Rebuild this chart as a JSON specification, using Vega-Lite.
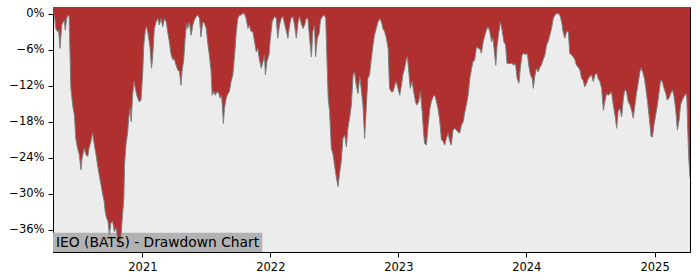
{
  "$schema": "https://vega.github.io/schema/vega-lite/v6.json",
  "width": 637,
  "height": 245,
  "autosize": {"type": "none"},
  "padding": {"left": 53, "top": 7, "right": 10, "bottom": 28},
  "background": "#ffffff",
  "config": {
    "view": {"fill": "#ececec", "stroke": "#000000", "strokeWidth": 1},
    "font": "DejaVu Sans",
    "axis": {
      "labelFont": "DejaVu Sans",
      "labelFontSize": 11.5,
      "labelColor": "#000000",
      "tickColor": "#000000",
      "domainColor": "#000000",
      "tickSize": 5,
      "grid": false,
      "title": null
    }
  },
  "datasets": {
    "label": [{"name": "IEO (BATS) - Drawdown Chart"}]
  },
  "data": {
    "values": [
      {"date": "2020-04-21", "drawdown": 0},
      {"date": "2020-04-25", "drawdown": -0.0025},
      {"date": "2020-04-29", "drawdown": -0.0247},
      {"date": "2020-05-04", "drawdown": -0.030},
      {"date": "2020-05-07", "drawdown": -0.0275},
      {"date": "2020-05-11", "drawdown": -0.058},
      {"date": "2020-05-16", "drawdown": -0.019},
      {"date": "2020-05-23", "drawdown": -0.011},
      {"date": "2020-05-26", "drawdown": -0.0275},
      {"date": "2020-05-30", "drawdown": -0.008},
      {"date": "2020-06-03", "drawdown": -0.0025},
      {"date": "2020-06-06", "drawdown": -0.005},
      {"date": "2020-06-11", "drawdown": -0.1245},
      {"date": "2020-06-16", "drawdown": -0.152},
      {"date": "2020-06-21", "drawdown": -0.169},
      {"date": "2020-06-25", "drawdown": -0.208},
      {"date": "2020-06-30", "drawdown": -0.224},
      {"date": "2020-07-05", "drawdown": -0.235},
      {"date": "2020-07-10", "drawdown": -0.260},
      {"date": "2020-07-13", "drawdown": -0.241},
      {"date": "2020-07-19", "drawdown": -0.224},
      {"date": "2020-07-24", "drawdown": -0.235},
      {"date": "2020-07-29", "drawdown": -0.238},
      {"date": "2020-08-02", "drawdown": -0.224},
      {"date": "2020-08-07", "drawdown": -0.213},
      {"date": "2020-08-12", "drawdown": -0.199},
      {"date": "2020-08-17", "drawdown": -0.219},
      {"date": "2020-08-22", "drawdown": -0.235},
      {"date": "2020-08-26", "drawdown": -0.252},
      {"date": "2020-08-31", "drawdown": -0.269},
      {"date": "2020-09-05", "drawdown": -0.285},
      {"date": "2020-09-10", "drawdown": -0.302},
      {"date": "2020-09-14", "drawdown": -0.313},
      {"date": "2020-09-17", "drawdown": -0.330},
      {"date": "2020-09-21", "drawdown": -0.341},
      {"date": "2020-09-25", "drawdown": -0.346},
      {"date": "2020-09-29", "drawdown": -0.369},
      {"date": "2020-10-03", "drawdown": -0.349},
      {"date": "2020-10-08", "drawdown": -0.346},
      {"date": "2020-10-13", "drawdown": -0.363},
      {"date": "2020-10-18", "drawdown": -0.357},
      {"date": "2020-10-22", "drawdown": -0.374},
      {"date": "2020-10-27", "drawdown": -0.385},
      {"date": "2020-11-01", "drawdown": -0.369},
      {"date": "2020-11-06", "drawdown": -0.330},
      {"date": "2020-11-09", "drawdown": -0.308},
      {"date": "2020-11-11", "drawdown": -0.252},
      {"date": "2020-11-15", "drawdown": -0.219},
      {"date": "2020-11-20", "drawdown": -0.197},
      {"date": "2020-11-23", "drawdown": -0.174},
      {"date": "2020-11-27", "drawdown": -0.158},
      {"date": "2020-11-30", "drawdown": -0.180},
      {"date": "2020-12-04", "drawdown": -0.136},
      {"date": "2020-12-08", "drawdown": -0.113},
      {"date": "2020-12-12", "drawdown": -0.1245},
      {"date": "2020-12-16", "drawdown": -0.136},
      {"date": "2020-12-19", "drawdown": -0.141},
      {"date": "2020-12-23", "drawdown": -0.147},
      {"date": "2020-12-28", "drawdown": -0.144},
      {"date": "2021-01-02", "drawdown": -0.097},
      {"date": "2021-01-05", "drawdown": -0.052},
      {"date": "2021-01-10", "drawdown": -0.0247},
      {"date": "2021-01-13", "drawdown": -0.022},
      {"date": "2021-01-18", "drawdown": -0.036},
      {"date": "2021-01-23", "drawdown": -0.058},
      {"date": "2021-01-27", "drawdown": -0.091},
      {"date": "2021-01-30", "drawdown": -0.075},
      {"date": "2021-02-04", "drawdown": -0.0247},
      {"date": "2021-02-09", "drawdown": -0.014},
      {"date": "2021-02-14", "drawdown": -0.008},
      {"date": "2021-02-18", "drawdown": -0.019},
      {"date": "2021-02-23", "drawdown": -0.008},
      {"date": "2021-02-28", "drawdown": -0.022},
      {"date": "2021-03-05", "drawdown": -0.008},
      {"date": "2021-03-10", "drawdown": -0.014},
      {"date": "2021-03-14", "drawdown": -0.030},
      {"date": "2021-03-19", "drawdown": -0.047},
      {"date": "2021-03-24", "drawdown": -0.069},
      {"date": "2021-03-29", "drawdown": -0.077},
      {"date": "2021-04-02", "drawdown": -0.075},
      {"date": "2021-04-07", "drawdown": -0.086},
      {"date": "2021-04-12", "drawdown": -0.094},
      {"date": "2021-04-17", "drawdown": -0.097},
      {"date": "2021-04-21", "drawdown": -0.119},
      {"date": "2021-04-24", "drawdown": -0.097},
      {"date": "2021-04-29", "drawdown": -0.075},
      {"date": "2021-05-03", "drawdown": -0.041},
      {"date": "2021-05-07", "drawdown": -0.016},
      {"date": "2021-05-10", "drawdown": -0.0247},
      {"date": "2021-05-15", "drawdown": -0.014},
      {"date": "2021-05-20", "drawdown": -0.036},
      {"date": "2021-05-25", "drawdown": -0.019},
      {"date": "2021-05-29", "drawdown": -0.011},
      {"date": "2021-06-03", "drawdown": -0.005},
      {"date": "2021-06-08", "drawdown": -0.0025},
      {"date": "2021-06-13", "drawdown": -0.008},
      {"date": "2021-06-17", "drawdown": -0.039},
      {"date": "2021-06-22", "drawdown": -0.014},
      {"date": "2021-06-27", "drawdown": -0.016},
      {"date": "2021-07-02", "drawdown": -0.0247},
      {"date": "2021-07-06", "drawdown": -0.047},
      {"date": "2021-07-11", "drawdown": -0.069},
      {"date": "2021-07-16", "drawdown": -0.097},
      {"date": "2021-07-19", "drawdown": -0.136},
      {"date": "2021-07-24", "drawdown": -0.130},
      {"date": "2021-07-28", "drawdown": -0.136},
      {"date": "2021-08-02", "drawdown": -0.130},
      {"date": "2021-08-07", "drawdown": -0.133},
      {"date": "2021-08-11", "drawdown": -0.141},
      {"date": "2021-08-15", "drawdown": -0.136},
      {"date": "2021-08-20", "drawdown": -0.183},
      {"date": "2021-08-23", "drawdown": -0.158},
      {"date": "2021-08-28", "drawdown": -0.141},
      {"date": "2021-09-02", "drawdown": -0.133},
      {"date": "2021-09-06", "drawdown": -0.130},
      {"date": "2021-09-11", "drawdown": -0.113},
      {"date": "2021-09-16", "drawdown": -0.102},
      {"date": "2021-09-21", "drawdown": -0.069},
      {"date": "2021-09-25", "drawdown": -0.036},
      {"date": "2021-09-30", "drawdown": -0.008},
      {"date": "2021-10-05", "drawdown": -0.0025},
      {"date": "2021-10-10", "drawdown": -0.0025},
      {"date": "2021-10-14", "drawdown": 0},
      {"date": "2021-10-19", "drawdown": 0},
      {"date": "2021-10-24", "drawdown": -0.008},
      {"date": "2021-10-29", "drawdown": -0.0247},
      {"date": "2021-11-02", "drawdown": -0.019},
      {"date": "2021-11-07", "drawdown": -0.030},
      {"date": "2021-11-12", "drawdown": -0.030},
      {"date": "2021-11-17", "drawdown": -0.047},
      {"date": "2021-11-22", "drawdown": -0.064},
      {"date": "2021-11-26", "drawdown": -0.058},
      {"date": "2021-12-01", "drawdown": -0.077},
      {"date": "2021-12-06", "drawdown": -0.091},
      {"date": "2021-12-11", "drawdown": -0.080},
      {"date": "2021-12-15", "drawdown": -0.069},
      {"date": "2021-12-18", "drawdown": -0.102},
      {"date": "2021-12-22", "drawdown": -0.080},
      {"date": "2021-12-28", "drawdown": -0.069},
      {"date": "2021-12-31", "drawdown": -0.047},
      {"date": "2022-01-06", "drawdown": -0.014},
      {"date": "2022-01-13", "drawdown": -0.005},
      {"date": "2022-01-18", "drawdown": -0.008},
      {"date": "2022-01-22", "drawdown": -0.041},
      {"date": "2022-01-27", "drawdown": -0.019},
      {"date": "2022-02-01", "drawdown": -0.008},
      {"date": "2022-02-06", "drawdown": -0.005},
      {"date": "2022-02-10", "drawdown": -0.016},
      {"date": "2022-02-15", "drawdown": -0.0275},
      {"date": "2022-02-20", "drawdown": -0.041},
      {"date": "2022-02-25", "drawdown": -0.019},
      {"date": "2022-03-01", "drawdown": -0.008},
      {"date": "2022-03-06", "drawdown": -0.005},
      {"date": "2022-03-11", "drawdown": -0.019},
      {"date": "2022-03-16", "drawdown": -0.041},
      {"date": "2022-03-21", "drawdown": -0.014},
      {"date": "2022-03-25", "drawdown": -0.005},
      {"date": "2022-03-30", "drawdown": -0.016},
      {"date": "2022-04-04", "drawdown": -0.0247},
      {"date": "2022-04-09", "drawdown": -0.019},
      {"date": "2022-04-13", "drawdown": -0.008},
      {"date": "2022-04-18", "drawdown": -0.008},
      {"date": "2022-04-23", "drawdown": -0.041},
      {"date": "2022-04-28", "drawdown": -0.072},
      {"date": "2022-05-02", "drawdown": -0.030},
      {"date": "2022-05-07", "drawdown": -0.019},
      {"date": "2022-05-10", "drawdown": -0.072},
      {"date": "2022-05-15", "drawdown": -0.041},
      {"date": "2022-05-20", "drawdown": -0.033},
      {"date": "2022-05-24", "drawdown": -0.011},
      {"date": "2022-05-29", "drawdown": -0.005},
      {"date": "2022-06-04", "drawdown": -0.0025},
      {"date": "2022-06-08", "drawdown": -0.008},
      {"date": "2022-06-11", "drawdown": -0.069},
      {"date": "2022-06-15", "drawdown": -0.141},
      {"date": "2022-06-19", "drawdown": -0.163},
      {"date": "2022-06-24", "drawdown": -0.224},
      {"date": "2022-06-29", "drawdown": -0.235},
      {"date": "2022-07-03", "drawdown": -0.252},
      {"date": "2022-07-08", "drawdown": -0.272},
      {"date": "2022-07-13", "drawdown": -0.288},
      {"date": "2022-07-18", "drawdown": -0.263},
      {"date": "2022-07-22", "drawdown": -0.247},
      {"date": "2022-07-27", "drawdown": -0.208},
      {"date": "2022-08-01", "drawdown": -0.202},
      {"date": "2022-08-06", "drawdown": -0.222},
      {"date": "2022-08-10", "drawdown": -0.191},
      {"date": "2022-08-15", "drawdown": -0.174},
      {"date": "2022-08-20", "drawdown": -0.152},
      {"date": "2022-08-25", "drawdown": -0.102},
      {"date": "2022-08-29", "drawdown": -0.097},
      {"date": "2022-09-03", "drawdown": -0.119},
      {"date": "2022-09-08", "drawdown": -0.133},
      {"date": "2022-09-13", "drawdown": -0.105},
      {"date": "2022-09-17", "drawdown": -0.1245},
      {"date": "2022-09-22", "drawdown": -0.152},
      {"date": "2022-09-27", "drawdown": -0.208},
      {"date": "2022-10-02", "drawdown": -0.152},
      {"date": "2022-10-06", "drawdown": -0.108},
      {"date": "2022-10-11", "drawdown": -0.102},
      {"date": "2022-10-16", "drawdown": -0.075},
      {"date": "2022-10-21", "drawdown": -0.052},
      {"date": "2022-10-25", "drawdown": -0.036},
      {"date": "2022-10-30", "drawdown": -0.0247},
      {"date": "2022-11-04", "drawdown": -0.014},
      {"date": "2022-11-09", "drawdown": -0.008},
      {"date": "2022-11-14", "drawdown": -0.014},
      {"date": "2022-11-18", "drawdown": -0.0247},
      {"date": "2022-11-23", "drawdown": -0.030},
      {"date": "2022-11-28", "drawdown": -0.041},
      {"date": "2022-12-03", "drawdown": -0.058},
      {"date": "2022-12-07", "drawdown": -0.1245},
      {"date": "2022-12-12", "drawdown": -0.130},
      {"date": "2022-12-17", "drawdown": -0.130},
      {"date": "2022-12-22", "drawdown": -0.119},
      {"date": "2022-12-26", "drawdown": -0.113},
      {"date": "2022-12-31", "drawdown": -0.1245},
      {"date": "2023-01-05", "drawdown": -0.136},
      {"date": "2023-01-10", "drawdown": -0.119},
      {"date": "2023-01-14", "drawdown": -0.102},
      {"date": "2023-01-19", "drawdown": -0.091},
      {"date": "2023-01-24", "drawdown": -0.075},
      {"date": "2023-01-27", "drawdown": -0.072},
      {"date": "2023-01-31", "drawdown": -0.097},
      {"date": "2023-02-04", "drawdown": -0.1245},
      {"date": "2023-02-09", "drawdown": -0.113},
      {"date": "2023-02-14", "drawdown": -0.130},
      {"date": "2023-02-19", "drawdown": -0.147},
      {"date": "2023-02-23", "drawdown": -0.152},
      {"date": "2023-02-28", "drawdown": -0.147},
      {"date": "2023-03-05", "drawdown": -0.130},
      {"date": "2023-03-10", "drawdown": -0.163},
      {"date": "2023-03-14", "drawdown": -0.197},
      {"date": "2023-03-17", "drawdown": -0.216},
      {"date": "2023-03-22", "drawdown": -0.219},
      {"date": "2023-03-27", "drawdown": -0.186},
      {"date": "2023-04-01", "drawdown": -0.158},
      {"date": "2023-04-05", "drawdown": -0.147},
      {"date": "2023-04-10", "drawdown": -0.138},
      {"date": "2023-04-15", "drawdown": -0.136},
      {"date": "2023-04-20", "drawdown": -0.147},
      {"date": "2023-04-24", "drawdown": -0.158},
      {"date": "2023-04-29", "drawdown": -0.177},
      {"date": "2023-05-04", "drawdown": -0.210},
      {"date": "2023-05-09", "drawdown": -0.213},
      {"date": "2023-05-13", "drawdown": -0.219},
      {"date": "2023-05-18", "drawdown": -0.208},
      {"date": "2023-05-23", "drawdown": -0.199},
      {"date": "2023-05-28", "drawdown": -0.213},
      {"date": "2023-06-01", "drawdown": -0.219},
      {"date": "2023-06-06", "drawdown": -0.194},
      {"date": "2023-06-11", "drawdown": -0.191},
      {"date": "2023-06-16", "drawdown": -0.194},
      {"date": "2023-06-20", "drawdown": -0.197},
      {"date": "2023-06-25", "drawdown": -0.199},
      {"date": "2023-06-30", "drawdown": -0.186},
      {"date": "2023-07-05", "drawdown": -0.180},
      {"date": "2023-07-10", "drawdown": -0.163},
      {"date": "2023-07-14", "drawdown": -0.152},
      {"date": "2023-07-19", "drawdown": -0.136},
      {"date": "2023-07-24", "drawdown": -0.108},
      {"date": "2023-07-29", "drawdown": -0.091},
      {"date": "2023-08-02", "drawdown": -0.080},
      {"date": "2023-08-07", "drawdown": -0.077},
      {"date": "2023-08-12", "drawdown": -0.055},
      {"date": "2023-08-17", "drawdown": -0.058},
      {"date": "2023-08-21", "drawdown": -0.058},
      {"date": "2023-08-26", "drawdown": -0.066},
      {"date": "2023-08-31", "drawdown": -0.047},
      {"date": "2023-09-05", "drawdown": -0.036},
      {"date": "2023-09-09", "drawdown": -0.0275},
      {"date": "2023-09-14", "drawdown": -0.022},
      {"date": "2023-09-19", "drawdown": -0.030},
      {"date": "2023-09-24", "drawdown": -0.047},
      {"date": "2023-09-28", "drawdown": -0.041},
      {"date": "2023-10-03", "drawdown": -0.069},
      {"date": "2023-10-06", "drawdown": -0.086},
      {"date": "2023-10-10", "drawdown": -0.052},
      {"date": "2023-10-15", "drawdown": -0.030},
      {"date": "2023-10-19", "drawdown": -0.014},
      {"date": "2023-10-24", "drawdown": -0.0275},
      {"date": "2023-10-29", "drawdown": -0.047},
      {"date": "2023-11-03", "drawdown": -0.052},
      {"date": "2023-11-07", "drawdown": -0.083},
      {"date": "2023-11-12", "drawdown": -0.083},
      {"date": "2023-11-17", "drawdown": -0.083},
      {"date": "2023-11-22", "drawdown": -0.083},
      {"date": "2023-11-26", "drawdown": -0.086},
      {"date": "2023-12-01", "drawdown": -0.083},
      {"date": "2023-12-06", "drawdown": -0.108},
      {"date": "2023-12-11", "drawdown": -0.116},
      {"date": "2023-12-15", "drawdown": -0.091},
      {"date": "2023-12-20", "drawdown": -0.069},
      {"date": "2023-12-25", "drawdown": -0.066},
      {"date": "2023-12-30", "drawdown": -0.069},
      {"date": "2024-01-04", "drawdown": -0.066},
      {"date": "2024-01-08", "drawdown": -0.086},
      {"date": "2024-01-13", "drawdown": -0.102},
      {"date": "2024-01-18", "drawdown": -0.108},
      {"date": "2024-01-21", "drawdown": -0.1245},
      {"date": "2024-01-25", "drawdown": -0.105},
      {"date": "2024-01-30", "drawdown": -0.091},
      {"date": "2024-02-04", "drawdown": -0.097},
      {"date": "2024-02-09", "drawdown": -0.089},
      {"date": "2024-02-13", "drawdown": -0.086},
      {"date": "2024-02-18", "drawdown": -0.077},
      {"date": "2024-02-23", "drawdown": -0.069},
      {"date": "2024-02-28", "drawdown": -0.052},
      {"date": "2024-03-03", "drawdown": -0.047},
      {"date": "2024-03-08", "drawdown": -0.036},
      {"date": "2024-03-13", "drawdown": -0.0247},
      {"date": "2024-03-18", "drawdown": -0.008},
      {"date": "2024-03-23", "drawdown": -0.0025},
      {"date": "2024-03-27", "drawdown": 0},
      {"date": "2024-04-01", "drawdown": 0},
      {"date": "2024-04-06", "drawdown": -0.0025},
      {"date": "2024-04-11", "drawdown": -0.014},
      {"date": "2024-04-15", "drawdown": -0.030},
      {"date": "2024-04-20", "drawdown": -0.041},
      {"date": "2024-04-25", "drawdown": -0.030},
      {"date": "2024-04-30", "drawdown": -0.030},
      {"date": "2024-05-04", "drawdown": -0.066},
      {"date": "2024-05-09", "drawdown": -0.069},
      {"date": "2024-05-14", "drawdown": -0.072},
      {"date": "2024-05-19", "drawdown": -0.077},
      {"date": "2024-05-23", "drawdown": -0.086},
      {"date": "2024-05-28", "drawdown": -0.089},
      {"date": "2024-06-02", "drawdown": -0.094},
      {"date": "2024-06-07", "drawdown": -0.108},
      {"date": "2024-06-11", "drawdown": -0.111},
      {"date": "2024-06-16", "drawdown": -0.122},
      {"date": "2024-06-21", "drawdown": -0.116},
      {"date": "2024-06-26", "drawdown": -0.108},
      {"date": "2024-06-30", "drawdown": -0.105},
      {"date": "2024-07-05", "drawdown": -0.102},
      {"date": "2024-07-10", "drawdown": -0.113},
      {"date": "2024-07-15", "drawdown": -0.102},
      {"date": "2024-07-20", "drawdown": -0.099},
      {"date": "2024-07-24", "drawdown": -0.108},
      {"date": "2024-07-29", "drawdown": -0.113},
      {"date": "2024-08-03", "drawdown": -0.1245},
      {"date": "2024-08-08", "drawdown": -0.161},
      {"date": "2024-08-12", "drawdown": -0.147},
      {"date": "2024-08-17", "drawdown": -0.133},
      {"date": "2024-08-22", "drawdown": -0.136},
      {"date": "2024-08-27", "drawdown": -0.133},
      {"date": "2024-08-31", "drawdown": -0.130},
      {"date": "2024-09-05", "drawdown": -0.152},
      {"date": "2024-09-10", "drawdown": -0.169},
      {"date": "2024-09-15", "drawdown": -0.191},
      {"date": "2024-09-19", "drawdown": -0.163},
      {"date": "2024-09-24", "drawdown": -0.158},
      {"date": "2024-09-29", "drawdown": -0.172},
      {"date": "2024-10-04", "drawdown": -0.141},
      {"date": "2024-10-08", "drawdown": -0.127},
      {"date": "2024-10-13", "drawdown": -0.130},
      {"date": "2024-10-18", "drawdown": -0.147},
      {"date": "2024-10-23", "drawdown": -0.152},
      {"date": "2024-10-28", "drawdown": -0.163},
      {"date": "2024-11-01", "drawdown": -0.174},
      {"date": "2024-11-06", "drawdown": -0.152},
      {"date": "2024-11-11", "drawdown": -0.130},
      {"date": "2024-11-16", "drawdown": -0.113},
      {"date": "2024-11-20", "drawdown": -0.097},
      {"date": "2024-11-23", "drawdown": -0.091},
      {"date": "2024-11-28", "drawdown": -0.097},
      {"date": "2024-12-03", "drawdown": -0.108},
      {"date": "2024-12-07", "drawdown": -0.1245},
      {"date": "2024-12-12", "drawdown": -0.147},
      {"date": "2024-12-17", "drawdown": -0.174},
      {"date": "2024-12-22", "drawdown": -0.205},
      {"date": "2024-12-26", "drawdown": -0.205},
      {"date": "2024-12-30", "drawdown": -0.186},
      {"date": "2025-01-04", "drawdown": -0.169},
      {"date": "2025-01-09", "drawdown": -0.152},
      {"date": "2025-01-14", "drawdown": -0.130},
      {"date": "2025-01-18", "drawdown": -0.111},
      {"date": "2025-01-23", "drawdown": -0.113},
      {"date": "2025-01-28", "drawdown": -0.1245},
      {"date": "2025-02-02", "drawdown": -0.133},
      {"date": "2025-02-06", "drawdown": -0.144},
      {"date": "2025-02-11", "drawdown": -0.141},
      {"date": "2025-02-16", "drawdown": -0.133},
      {"date": "2025-02-21", "drawdown": -0.127},
      {"date": "2025-02-25", "drawdown": -0.136},
      {"date": "2025-03-02", "drawdown": -0.158},
      {"date": "2025-03-07", "drawdown": -0.194},
      {"date": "2025-03-12", "drawdown": -0.177},
      {"date": "2025-03-16", "drawdown": -0.152},
      {"date": "2025-03-21", "drawdown": -0.144},
      {"date": "2025-03-26", "drawdown": -0.138},
      {"date": "2025-03-31", "drawdown": -0.133},
      {"date": "2025-04-03", "drawdown": -0.141},
      {"date": "2025-04-05", "drawdown": -0.180},
      {"date": "2025-04-08", "drawdown": -0.235},
      {"date": "2025-04-12", "drawdown": -0.274}
    ]
  },
  "layer": [
    {
      "data": {"name": "label"},
      "mark": {"type": "rect", "color": "#b2b2b2"},
      "encoding": {
        "x": {"datum": {"year": 2020, "month": 4, "date": 21, "utc": true}, "type": "temporal"},
        "x2": {"datum": {"year": 2021, "month": 12, "date": 9, "utc": true}},
        "y": {"datum": -0.365, "type": "quantitative"},
        "y2": {"datum": -0.397}
      }
    },
    {
      "mark": {"type": "area", "color": "#b0302f", "clip": true},
      "encoding": {
        "x": {
          "field": "date",
          "type": "temporal",
          "scale": {
            "type": "utc",
            "domain": [
              {"year": 2020, "month": 4, "date": 21, "utc": true},
              {"year": 2025, "month": 4, "date": 12, "utc": true}
            ]
          },
          "axis": {
            "format": "%Y",
            "formatType": "utc",
            "tickCount": {"interval": "year", "step": 1},
            "labelPadding": 4
          }
        },
        "y": {
          "field": "drawdown",
          "type": "quantitative",
          "scale": {"domain": [-0.397, 0.011], "nice": false, "zero": false},
          "axis": {
            "values": [0, -0.06, -0.12, -0.18, -0.24, -0.30, -0.36],
            "format": ".0%",
            "labelPadding": 4
          }
        },
        "y2": {"datum": 0.011}
      }
    },
    {
      "mark": {"type": "line", "color": "#7f7f7f", "strokeWidth": 1, "clip": true},
      "encoding": {
        "x": {"field": "date", "type": "temporal"},
        "y": {"field": "drawdown", "type": "quantitative"}
      }
    },
    {
      "data": {"name": "label"},
      "mark": {"type": "text", "align": "left", "baseline": "alphabetic", "dx": 3, "font": "DejaVu Sans", "fontSize": 13.8, "color": "#000000"},
      "encoding": {
        "x": {"datum": {"year": 2020, "month": 4, "date": 21, "utc": true}, "type": "temporal"},
        "y": {"datum": -0.388, "type": "quantitative"},
        "text": {"field": "name"}
      }
    }
  ]
}
